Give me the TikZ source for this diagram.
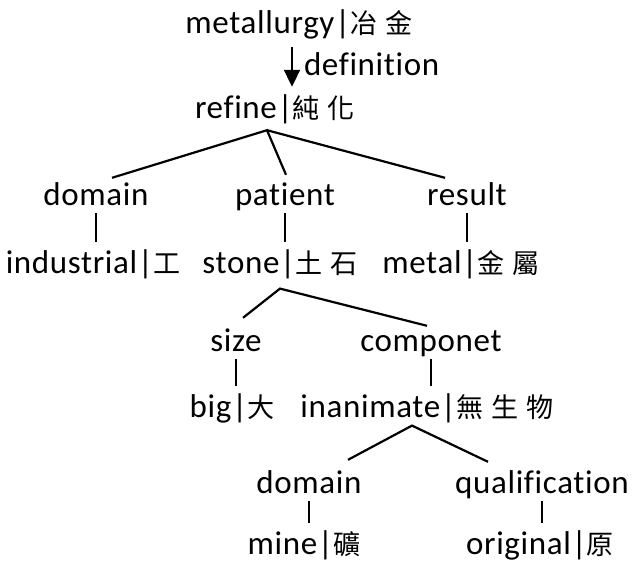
\documentclass[tikz,border=0pt]{standalone}
\usepackage{fontspec}
\setmainfont{Carlito}[Ligatures=NoCommon,LetterSpace=2]
\newfontfamily\cjk{Noto Sans CJK TC}[Scale=0.82,LetterSpace=30]
\newcommand\zh[1]{{\cjk #1}}
\usepackage{tikz}
\usetikzlibrary{arrows.meta,positioning,calc}

\begin{document}
\begin{tikzpicture}[x=1pt, y=-1pt, font=\fontsize{33}{38}\selectfont,
  word/.style={inner sep=0pt, text height=31pt, text depth=8pt},
  edge/.style={line width=2.2pt}]
  \useasboundingbox (0,0) rectangle (632,560);
  \node[word] (meta) at (299,21.5) {metallurgy|\zh{冶金}};
  \node[word] (refine) at (275,106.5) {refine|\zh{純化}};
  \draw[-{Triangle[width=16pt,length=17pt]},line width=2pt] ([xshift=-7pt,yshift=-6pt]meta.south) -- ([xshift=-7pt]meta.south |- refine.north)
    node[word,anchor=west,xshift=11pt,pos=0.43] (def) {definition};
  \node[word] (dom1) at (96,193.5) {domain};
  \node[word] (pat) at (285,193.5) {patient};
  \node[word] (res) at (467,193.5) {result};
  \node[word,below=29pt of dom1,xshift=-3pt] (ind) {industrial|\zh{工}};
  \node[word,below=29pt of pat,xshift=-5pt] (stone) {stone|\zh{土石}};
  \node[word,below=29pt of res,xshift=-6pt] (metal) {metal|\zh{金屬}};
  \node[word] (size) at (236,339.5) {size};
  \node[word] (comp) at (431,339.5) {componet};
  \node[word,below=27pt of size,xshift=-4pt] (big) {big|\zh{大}};
  \node[word,below=27pt of comp,xshift=-4pt] (inan) {inanimate|\zh{無生物}};
  \node[word] (dom2) at (309,481.5) {domain};
  \node[word] (qual) at (542,481.5) {qualification};
  \node[word,below=22pt of dom2,xshift=-5pt] (mine) {mine|\zh{礦}};
  \node[word,below=22pt of qual,xshift=-2pt] (orig) {original|\zh{原}};
  \draw[edge] ([xshift=16pt,yshift=-4pt]dom1.north) -- ([xshift=-8pt,yshift=-4pt]refine.south) -- ([xshift=1pt,yshift=-1pt]pat.north);
  \draw[edge] ([xshift=-8pt,yshift=-4pt]refine.south) -- ([xshift=-22pt,yshift=-4pt]res.north);
  \draw[edge] ([xshift=7pt,yshift=2pt]size.north) -- ([yshift=-7pt]stone.south) -- ([xshift=-4pt,yshift=-6pt]comp.north);
  \draw[edge] ([xshift=39pt,yshift=2pt]dom2.north) -- ([xshift=-15pt]inan.south) -- ([xshift=-54pt]qual.north);
  \draw[edge] (dom1.south) -- (dom1.south |- ind.north);
  \draw[edge] (pat.south) -- (pat.south |- stone.north);
  \draw[edge] (res.south) -- (res.south |- metal.north);
  \draw[edge] (size.south) -- (size.south |- big.north);
  \draw[edge] (comp.south) -- (comp.south |- inan.north);
  \draw[edge] (dom2.south) -- (dom2.south |- mine.north);
  \draw[edge] (qual.south) -- (qual.south |- orig.north);
\end{tikzpicture}
\end{document}
